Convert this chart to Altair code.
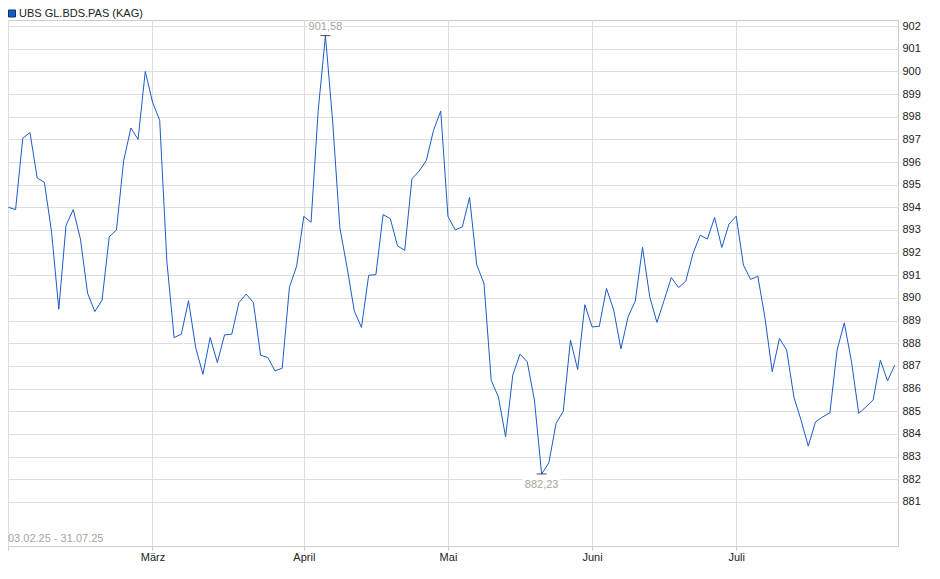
import altair as alt
import pandas as pd

# ---- data (trading-day index -> price) ----
values = [
    894.0, 893.9, 897.05, 897.3, 895.3, 895.1, 892.9, 889.5, 893.2, 893.9,
    892.6, 890.2, 889.4, 889.9, 892.7, 893.0, 896.06, 897.5, 897.0, 900.0,
    898.65, 897.84, 891.6, 888.25, 888.4, 889.88, 887.8, 886.63, 888.25, 887.15,
    888.37, 888.4, 889.8, 890.17, 889.8, 887.47, 887.37, 886.78, 886.9, 890.47,
    891.4, 893.6, 893.34, 898.3, 901.58, 897.8, 893.1, 891.35, 889.43, 888.7,
    891.0, 891.03, 893.68, 893.5, 892.3, 892.1, 895.26, 895.6, 896.07, 897.4,
    898.25, 893.6, 893.0, 893.14, 894.44, 891.45, 890.64, 886.37, 885.63, 883.87,
    886.6, 887.52, 887.18, 885.49, 882.23, 882.72, 884.46, 885.0, 888.14, 886.84,
    889.7, 888.72, 888.75, 890.42, 889.46, 887.75, 889.17, 889.87, 892.23, 890.05,
    888.92, 889.9, 890.9, 890.46, 890.74, 891.96, 892.77, 892.6, 893.55, 892.23,
    893.26, 893.61, 891.45, 890.82, 890.96, 889.1, 886.74, 888.21, 887.7, 885.63,
    884.6, 883.46, 884.53, 884.75, 884.93, 887.7, 888.9, 887.18, 884.9, 885.19,
    885.49, 887.25, 886.34, 887.03,
]
month_idx = [0, 20, 41, 61, 81, 101]
month_lbl = ["", "März", "April", "Mai", "Juni", "Juli"]
y_ticks = list(range(881, 903))
series_name = "UBS GL.BDS.PAS (KAG)"
range_text = "03.02.25 - 31.07.25"

FONT = "Liberation Sans"
BLUE = "#1c5bc7"
GRAY_TXT = "#a8a39d"

df = pd.DataFrame({"i": list(range(len(values))), "v": values})

imax = max(range(len(values)), key=lambda k: values[k])
imin = min(range(len(values)), key=lambda k: values[k])
fmt = lambda v: f"{v:.2f}".replace(".", ",")
df_max = pd.DataFrame({"i": [imax], "v": [values[imax]], "t": [fmt(values[imax])]})
df_min = pd.DataFrame({"i": [imin], "v": [values[imin]], "t": [fmt(values[imin])]})

expr = "''"
for k, lab in zip(reversed(month_idx), reversed(month_lbl)):
    expr = f"datum.value == {k} ? '{lab}' : ({expr})"

X = alt.X(
    "i:Q",
    scale=alt.Scale(domain=[-0.05, 123.45], nice=False, zero=False),
    axis=alt.Axis(
        values=month_idx, labelExpr=expr, title=None, grid=True,
        gridColor="#dddddd", tickColor="#cccccc", tickSize=4, domain=False,
        labelFont=FONT, labelFontSize=11, labelColor="#222222",
        labelPadding=1, labelFlush=False, labelOverlap=False,
    ),
)
Y = alt.Y(
    "v:Q",
    scale=alt.Scale(domain=[879.05, 902.27], nice=False, zero=False),
    axis=alt.Axis(
        orient="right", values=y_ticks, title=None, grid=True,
        gridColor="#dddddd", ticks=False, domain=False, labelPadding=4,
        labelFont=FONT, labelFontSize=11, labelColor="#222222", format="d",
        labelOverlap=False,
    ),
)

line = alt.Chart(df).mark_line(color=BLUE, strokeWidth=1).encode(x=X, y=Y)

max_box = alt.Chart(df_max).mark_rect(width=36, height=12, color="white", yOffset=-9).encode(x=X, y=Y)
min_box = alt.Chart(df_min).mark_rect(width=38, height=12, color="white", yOffset=11).encode(x=X, y=Y)
max_tick = alt.Chart(df_max).mark_tick(orient="horizontal", size=10, thickness=1, color="black").encode(x=X, y=Y)
min_tick = alt.Chart(df_min).mark_tick(orient="horizontal", size=10, thickness=1, color="black").encode(x=X, y=Y)
max_txt = alt.Chart(df_max).mark_text(font=FONT, fontSize=11, color=GRAY_TXT, baseline="middle", dy=-9).encode(x=X, y=Y, text="t:N")
min_txt = alt.Chart(df_min).mark_text(font=FONT, fontSize=11, color=GRAY_TXT, baseline="middle", dy=11).encode(x=X, y=Y, text="t:N")

one = pd.DataFrame({"a": [0]})
leg_sq = alt.Chart(one).mark_rect(fill=BLUE, stroke="#0d2f73", strokeWidth=1).encode(
    x=alt.value(0.5), x2=alt.value(7.5), y=alt.value(-10), y2=alt.value(-3)
)
leg_txt = alt.Chart(one).mark_text(font=FONT, fontSize=11, color="#222222", align="left", baseline="middle").encode(
    x=alt.value(11), y=alt.value(-6), text=alt.value(series_name)
)
rng_txt = alt.Chart(one).mark_text(font=FONT, fontSize=11, color=GRAY_TXT, align="left", baseline="middle").encode(
    x=alt.value(0), y=alt.value(519), text=alt.value(range_text)
)

chart = (
    alt.layer(line, max_box, min_box, max_tick, min_tick, max_txt, min_txt, leg_sq, leg_txt, rng_txt)
    .properties(
        width=890, height=526,
        padding={"left": 0, "top": 12, "right": 30, "bottom": 20},
        autosize=alt.AutoSizeParams(type="none"),
        background="white",
    )
    .configure_view(stroke="#cccccc", strokeWidth=1)
)

chart.save("out.html", embed_options={"renderer": "svg", "actions": False})
